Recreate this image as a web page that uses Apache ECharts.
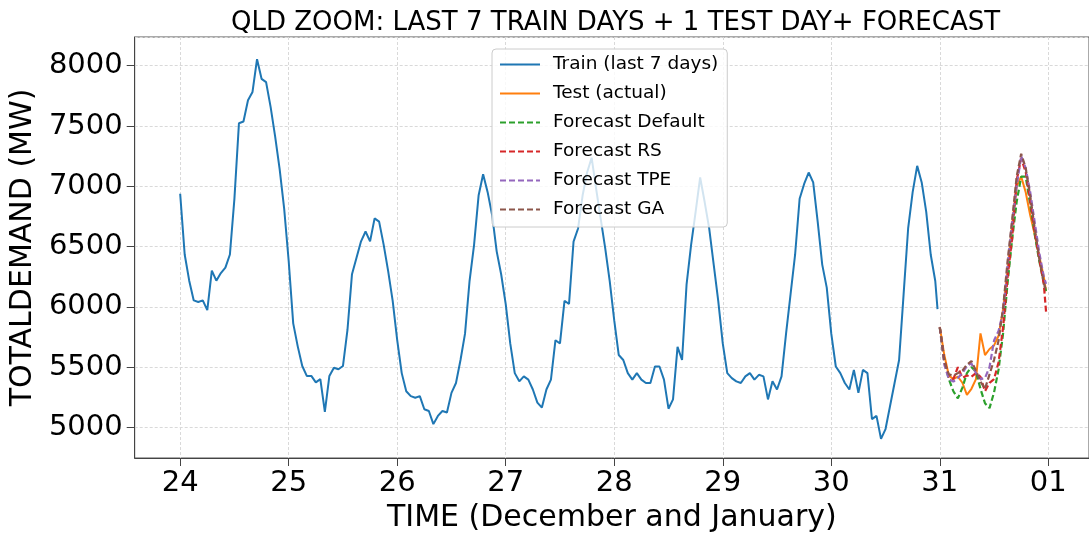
<!DOCTYPE html>
<html>
<head>
<meta charset="utf-8">
<script src="https://cdn.jsdelivr.net/npm/echarts@6/dist/echarts.min.js"></script>
<style>
  html, body { margin: 0; padding: 0; background: #fff; }
  #chart { width: 1089px; height: 538px; }
</style>
</head>
<body>
<div id="chart"></div>
<script>
// ---------------- DATA ----------------
const chartTitle = 'QLD ZOOM: LAST 7 TRAIN DAYS + 1 TEST DAY+ FORECAST';
const xAxisTitle = 'TIME (December and January)';
const yAxisTitle = 'TOTALDEMAND (MW)';
const seriesNames = ['Train (last 7 days)', 'Test (actual)', 'Forecast Default', 'Forecast RS', 'Forecast TPE', 'Forecast GA'];
const yTickValues = [5000, 5500, 6000, 6500, 7000, 7500, 8000];

// Train: hourly readings from 24 Dec 00:00 to 30 Dec 23:00
const trainValues = [
  6938, 6434, 6217, 6053, 6040, 6053, 5972, 6300, 6217, 6280, 6325, 6434,
  6897, 7523, 7537, 7714, 7782, 8054, 7891, 7864, 7659, 7414, 7142, 6815,
  6380, 5863, 5672, 5509, 5427, 5427, 5373, 5400, 5128, 5427, 5495, 5482,
  5509, 5808, 6271, 6407, 6543, 6625, 6543, 6734, 6707, 6516, 6296, 6050,
  5723, 5450, 5300, 5259, 5246, 5259, 5150, 5136, 5027, 5095, 5136, 5123,
  5286, 5368, 5559, 5777, 6214, 6514, 6923, 7100, 6951, 6760, 6460, 6268,
  6023, 5696, 5450, 5382, 5423, 5396, 5314, 5205, 5164, 5314, 5396, 5723,
  5696, 6050, 6023, 6541, 6650, 6923, 7114, 7237, 6978, 6732, 6487, 6214,
  5887, 5600, 5559, 5450, 5396, 5450, 5396, 5368, 5368, 5505, 5505, 5396,
  5155, 5232, 5668, 5559, 6187, 6514, 6787, 7073, 6869, 6650, 6350, 6050,
  5696, 5450, 5409, 5382, 5368, 5423, 5450, 5396, 5436, 5423, 5232, 5382,
  5314, 5423, 5777, 6105, 6432, 6896, 7019, 7114, 7032, 6705, 6350, 6159,
  5777, 5505, 5450, 5368, 5314, 5477, 5286, 5477, 5450, 5068, 5095, 4905,
  4986, 5177, 5368, 5559, 6105, 6650, 6951, 7169, 7032, 6787, 6432, 6214
];
const trainFinalHalfHour = 5981; // 30 Dec 23:30

// Test day (31 Dec) hours
const testHours = [0,1,2,3,4,5,6,7,8,9,10,11,12,13,14,15,16,17,18,19,20,21,22,23,23.5];
const testValues = [5833,5600,5430,5400,5420,5370,5270,5320,5400,5780,5600,5650,5680,5760,5980,6300,6680,7000,7080,6950,6760,6600,6420,6250,6130];
const forecastDefault = [5830,5560,5400,5300,5240,5330,5450,5500,5460,5320,5200,5160,5290,5480,5780,6200,6560,6870,7080,7080,6850,6600,6380,6200,6130];
const forecastRS = [5830,5560,5420,5400,5500,5410,5430,5420,5450,5420,5300,5370,5400,5540,5830,6250,6570,7050,7230,7120,6880,6620,6400,6190,5960];
const forecastTPE = [5830,5520,5400,5380,5410,5450,5510,5530,5450,5400,5410,5500,5720,5800,5960,6350,6700,7000,7250,7150,6950,6700,6450,6250,6190];
const forecastGA = [5830,5540,5440,5430,5450,5470,5520,5550,5470,5380,5320,5440,5560,5720,5990,6380,6720,7080,7270,7150,6920,6650,6400,6200,6130];

// ---------------- BUILD ----------------
const HOUR = 3600000, DAY = 24 * HOUR;
const base = new Date(2019, 11, 24).getTime();
const testStart = base + 7 * DAY;

const trainData = trainValues.map((v, i) => [base + i * HOUR, v]);
trainData.push([base + 167.5 * HOUR, trainFinalHalfHour]);
const toTest = arr => arr.map((v, i) => [testStart + testHours[i] * HOUR, v]);

const colors = ['#1f77b4', '#ff7f0e', '#2ca02c', '#d62728', '#9467bd', '#8c564b'];
const seriesData = [trainData, toTest(testValues), toTest(forecastDefault), toTest(forecastRS), toTest(forecastTPE), toTest(forecastGA)];

const FONT = "'DejaVu Sans', sans-serif";
const chart = echarts.init(document.getElementById('chart'), null, { renderer: 'canvas' });

chart.setOption({
  animation: false,
  backgroundColor: '#fff',
  color: colors,
  title: {
    text: chartTitle,
    left: 226, top: 5,
    textStyle: { fontFamily: FONT, fontSize: 26, fontWeight: 'normal', color: '#000' }
  },
  legend: {
    orient: 'vertical',
    left: 492, top: 49,
    padding: [6, 9, 8, 7],
    backgroundColor: 'rgba(255,255,255,0.8)',
    borderColor: '#cccccc', borderWidth: 1, borderRadius: 4,
    itemWidth: 40, itemHeight: 18, itemGap: 10,
    itemStyle: { opacity: 0, borderWidth: 0 },
    textStyle: { fontFamily: FONT, fontSize: 18.5, color: '#000', lineHeight: 18, padding: [0, 0, 0, 8] },
    data: seriesNames
  },
  grid: {
    left: 134, right: -1, top: 37, bottom: 75,
    show: true, borderColor: '#555', borderWidth: 1, backgroundColor: 'transparent'
  },
  xAxis: {
    type: 'time',
    min: base - 0.419 * DAY,
    max: base + 8.375 * DAY,
    minInterval: DAY, maxInterval: DAY,
    name: xAxisTitle, nameLocation: 'middle', nameGap: 45,
    nameTextStyle: { fontFamily: FONT, fontSize: 30, color: '#000' },
    axisLine: { show: true, lineStyle: { color: '#444', width: 1 } },
    axisTick: { show: true, length: 8, lineStyle: { color: '#444' } },
    axisLabel: {
      fontFamily: FONT, fontSize: 29, color: '#000', margin: 11,
      showMinLabel: false, showMaxLabel: false, hideOverlap: false,
      formatter: function (val) {
        const d = new Date(val);
        if (d.getHours() !== 0 || d.getMinutes() !== 0) return '';
        const n = d.getDate();
        return (n < 10 ? '0' : '') + n;
      }
    },
    splitLine: { show: true, lineStyle: { color: '#d9d9d9', width: 1, type: [3, 2] } }
  },
  yAxis: {
    type: 'value',
    min: 4746, max: 8238,
    splitNumber: 7,
    name: yAxisTitle, nameLocation: 'middle', nameGap: 92,
    nameTextStyle: { fontFamily: FONT, fontSize: 30, color: '#000' },
    axisLine: { show: true, lineStyle: { color: '#444', width: 1 } },
    axisTick: { show: true, length: 8, lineStyle: { color: '#444' } },
    axisLabel: {
      fontFamily: FONT, fontSize: 29, color: '#000', margin: 12,
      showMinLabel: false, showMaxLabel: false,
      formatter: v => (yTickValues.indexOf(v) >= 0 ? String(v) : '')
    },
    splitLine: { show: true, lineStyle: { color: '#d9d9d9', width: 1, type: [3, 2] } }
  },
  series: seriesNames.map((name, i) => ({
    name: name,
    type: 'line',
    data: seriesData[i],
    symbol: 'none',
    showSymbol: false,
    smooth: false,
    z: 2 + i,
    lineStyle: {
      color: colors[i],
      width: i <= 1 ? 2 : 2.2,
      type: i <= 1 ? 'solid' : [6, 3]
    },
    itemStyle: { color: colors[i] }
  }))
});
</script>
</body>
</html>
